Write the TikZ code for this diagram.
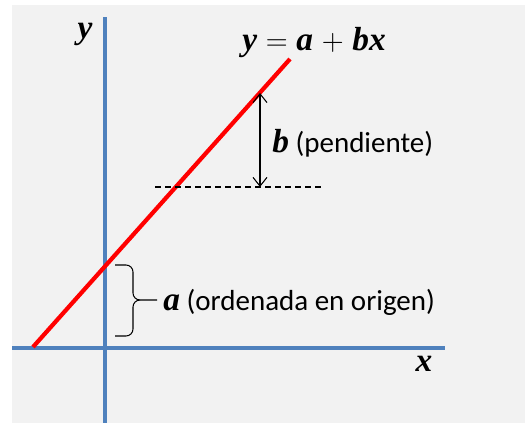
\documentclass[tikz,border=0pt]{standalone}
\usepackage{fontspec}
\setmainfont{Carlito}
\newfontfamily\varfont{Liberation Serif}
\usepackage{xcolor}
\usetikzlibrary{arrows.meta, positioning, calc}
\definecolor{ejeazul}{HTML}{4F81BD}
\definecolor{fondo}{HTML}{F2F2F2}
\newcommand{\letra}[1]{{\varfont\fontsize{19}{21}\selectfont\bfseries\itshape #1}}
\newcommand{\signo}[1]{\hspace{0.3em}{\fontsize{18}{21}\selectfont$#1$}\hspace{0.3em}}

\begin{document}
\begin{tikzpicture}[
    x=0.02cm, y=0.02cm,
    font=\fontsize{16.5}{19}\selectfont,
    axis/.style={draw=ejeazul, line width=2pt},
    recta/.style={draw=red, line width=2.4pt},
    guia/.style={draw=black, line width=0.6pt, dash pattern=on 3.4pt off 2.3pt},
    arrow/.style={{Straight Barb[length=5pt,width=8pt]}-{Straight Barb[length=5pt,width=8pt]}, line width=0.6pt},
    etiq/.style={inner sep=0pt, anchor=west}
]
    \useasboundingbox (0,0) rectangle (525,423);
    \fill[fondo] (12,0) rectangle (525,418);

    % ejes
    \draw[axis] (12,75) -- (445,75);
    \draw[axis] (105,0) -- (105,406);
    \node (ylab) at (85,389) {\letra{y}};
    \node (xlab) at (424,59) {\letra{x}};

    % recta y = a + bx
    \draw[recta] (33,76) -- (290,364);
    \node (eq) at (314,380) {\letra{y}\signo{=}\letra{a}\signo{+}\letra{bx}};

    % pendiente
    \draw[guia] (155,236) -- (322,236);
    \coordinate (top) at (260,330);
    \coordinate (base) at (260,236);
    \draw[arrow] (top) -- (base);
    \node[etiq] (pend) at (272,280) {\letra{b} (pendiente)};

    % ordenada en origen
    \draw[line width=0.6pt] (115,158) -- (126,158) to[out=0,in=90] (133,151) -- (133,130)
        to[out=270,in=180] (140,123) -- (157,123);
    \draw[line width=0.6pt] (115,87) -- (126,87) to[out=0,in=270] (133,94) -- (133,116)
        to[out=90,in=180] (140,123);
    \node[etiq] (orden) at (163,121) {\letra{a} (ordenada en origen)};
\end{tikzpicture}
\end{document}
